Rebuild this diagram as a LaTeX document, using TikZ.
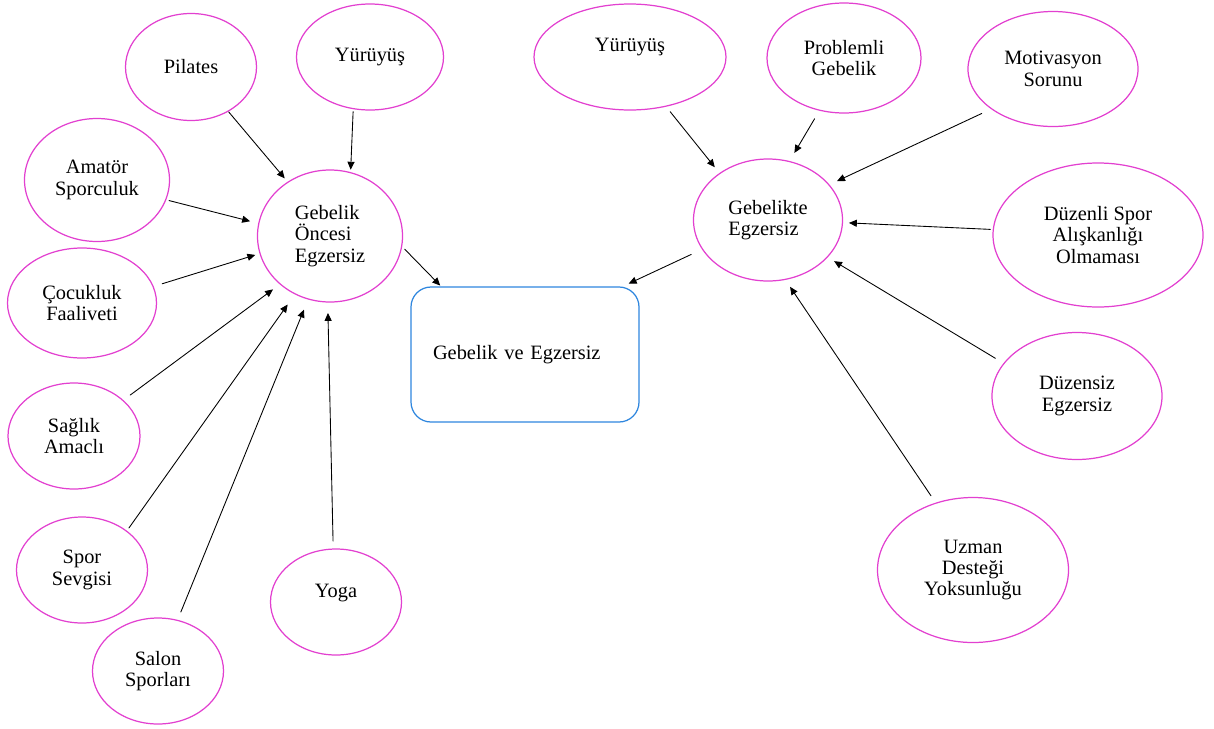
\documentclass[tikz,border=0pt]{standalone}
\usepackage{fontspec}
\setmainfont{Liberation Serif}
\usetikzlibrary{shapes.geometric,arrows.meta}
\definecolor{ovalpink}{RGB}{226,64,208}
\definecolor{boxblue}{RGB}{46,134,222}
\tikzset{
  oval/.style={ellipse, draw=ovalpink, line width=0.7pt, inner sep=0pt, outer sep=0pt, align=center},
  box/.style={draw=boxblue, line width=0.7pt, rounded corners=4mm, align=left, text width=36.8mm,
    inner xsep=4.4mm, inner ysep=0pt, outer sep=0pt, minimum width=45.6mm, minimum height=27mm},
  arr/.style={->, line width=0.5pt}
}
\begin{document}
\begin{tikzpicture}[x=0.2mm, y=-0.2mm, font=\fontsize{11.6}{12.2}\selectfont, line cap=round, line join=round, >={Triangle[length=4.5pt,width=4pt]}]
\useasboundingbox (0,0) rectangle (1214,728);

% gebelik oncesi
\node[oval, minimum width=26.2mm, minimum height=21.4mm] (pil) at (191,67) {Pilates};
\node[oval, minimum width=29.4mm, minimum height=21.2mm] (yurl) at (370,57) {Yürüyüş};
\node[oval, minimum width=29mm, minimum height=24.6mm] (amat) at (97,180) {Amatör\\Sporculuk};
\node[oval, minimum width=29mm, minimum height=26.4mm, align=left] (goe) at (330,236) {Gebelik\\Öncesi\\Egzersiz};
\node[oval, minimum width=29.8mm, minimum height=22mm] (cocuk) at (82,303) {Çocukluk\\Faaliveti};
\node[oval, minimum width=26.4mm, minimum height=21.2mm] (saglik) at (74,436) {Sağlık\\Amaclı};
\node[oval, minimum width=26.2mm, minimum height=21.2mm] (spor) at (82,570) {Spor\\Sevgisi};
\node[oval, minimum width=26.2mm, minimum height=21.2mm] (salon) at (158,671) {Salon\\Sporları};
\node[oval, minimum width=26.2mm, minimum height=21.2mm, text depth=4.4mm] (yoga) at (336,602) {Yoga};

\node[box] (kutu) at (525,354.5) {Gebelik ve Egzersiz};

% gebelikte
\node[oval, minimum width=38.4mm, minimum height=21.2mm, text depth=4.9mm] (yurr) at (630,57) {Yürüyüş};
\node[oval, minimum width=30.8mm, minimum height=22mm] (prob) at (844,58) {Problemli\\Gebelik};
\node[oval, minimum width=34mm, minimum height=23mm] (motiv) at (1053,69) {Motivasyon\\Sorunu};
\node[oval, minimum width=29.8mm, minimum height=24.4mm, align=left] (gebi) at (768,220) {Gebelikte\\Egzersiz};
\node[oval, minimum width=42mm, minimum height=28.8mm] (duzenli) at (1098,235) {Düzenli Spor\\Alışkanlığı\\Olmaması};
\node[oval, minimum width=34mm, minimum height=25.4mm] (duzensiz) at (1077,396) {Düzensiz\\Egzersiz};
\node[oval, minimum width=38.2mm, minimum height=29mm] (uzman) at (973,570) {Uzman\\Desteği\\Yoksunluğu};

\draw[arr, shorten <=0.2mm, shorten >=1mm] (pil.-50) -- (goe.128);
\draw[arr, shorten <=0.6mm, shorten >=0.6mm] (yurl.252) -- (goe.72);
\draw[arr, shorten <=0.7mm, shorten >=1.8mm] (amat.-16) -- (goe.170);
\draw[arr, shorten <=1.9mm, shorten >=1mm] (cocuk.13) -- (goe.194);
\draw[arr, shorten <=1.8mm, shorten >=1.8mm] (saglik.36) -- (goe.224);
\draw[arr, shorten <=0.8mm, shorten >=2.6mm] (spor.41) -- (goe.239);
\draw[arr, shorten <=1.8mm, shorten >=2.3mm] (salon.69) -- (goe.251);
\draw[arr, shorten <=1.6mm, shorten >=2.2mm] (yoga.93) -- (goe.268);
\draw[arr, shorten <=0.9mm, shorten >=0.4mm] (goe.-8) -- (kutu.141);

\draw[arr, shorten <=1.4mm, shorten >=1.6mm] (yurr.-54) -- (gebi.136);
\draw[arr, shorten <=2mm, shorten >=2mm] (prob.245) -- (gebi.70);
\draw[arr, shorten <=2.2mm, shorten >=1.8mm] (motiv.213) -- (gebi.30);
\draw[arr, shorten <=0.6mm, shorten >=1.3mm] (duzenli.177) -- (gebi.-2);
\draw[arr, shorten <=2mm, shorten >=1.6mm] (duzensiz.156) -- (gebi.-32);
\draw[arr, shorten <=1.8mm, shorten >=1.8mm] (uzman.119) -- (gebi.-74);
\draw[arr, shorten <=2.5mm, shorten >=1.6mm] (gebi.204) -- (kutu.35);
\end{tikzpicture}
\end{document}
